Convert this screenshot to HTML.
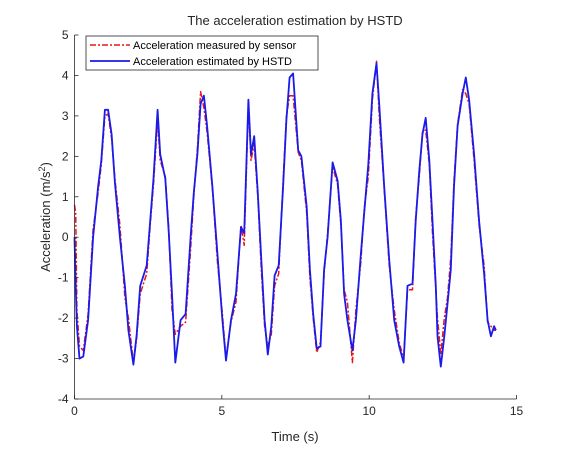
<!DOCTYPE html>
<html><head><meta charset="utf-8"><style>
body{margin:0;background:#fff;}
svg text{font-family:"Liberation Sans",Arial,sans-serif;fill:#262626;}
</style></head><body>
<svg width="570" height="450" xmlns="http://www.w3.org/2000/svg">
<rect x="0" y="0" width="570" height="450" fill="#fff"/>
<rect x="74.5" y="35" width="442" height="364" fill="#fff"/>
<g id="marks"></g>
<g id="axes"></g>
<text x="295" y="25" text-anchor="middle" font-size="13">The acceleration estimation by HSTD</text>
<text x="295" y="441" text-anchor="middle" font-size="13">Time (s)</text>
<text transform="translate(50,217) rotate(-90)" text-anchor="middle" font-size="13">Acceleration (m/s<tspan dy="-5" font-size="9">2</tspan><tspan dy="5">)</tspan></text>
<g>
<rect x="86" y="36" width="232" height="34" fill="#fff" stroke="#262626" stroke-width="0.8"/>
<line x1="90" y1="45" x2="130" y2="45" stroke="#e8161b" stroke-width="1.5" stroke-dasharray="6,2,2,2"/>
<text x="133" y="49" font-size="11" style="fill:#000">Acceleration measured by sensor</text>
<line x1="90" y1="61" x2="130" y2="61" stroke="#1a1aeb" stroke-width="1.8"/>
<text x="133" y="65" font-size="11" style="fill:#000">Acceleration estimated by HSTD</text>
</g>
</svg>
<script>
const times=[0,0.04,0.08,0.17,0.3,0.46,0.63,0.8,0.91,1.03,1.14,1.26,1.37,1.54,1.71,1.83,2.0,2.11,2.23,2.45,2.57,2.68,2.82,2.91,3.08,3.2,3.31,3.42,3.6,3.77,3.94,4.05,4.17,4.28,4.39,4.5,4.68,4.85,5.02,5.14,5.31,5.48,5.65,5.76,5.9,5.99,6.1,6.22,6.34,6.45,6.56,6.68,6.79,6.93,7.08,7.19,7.3,7.42,7.59,7.7,7.88,7.99,8.1,8.22,8.35,8.47,8.59,8.76,8.93,9.04,9.15,9.26,9.43,9.55,9.72,9.83,9.97,10.11,10.25,10.34,10.51,10.68,10.85,11.02,11.17,11.3,11.47,11.58,11.7,11.81,11.92,12.04,12.15,12.26,12.32,12.43,12.55,12.66,12.77,12.88,13.0,13.17,13.28,13.39,13.56,13.73,13.9,14.02,14.13,14.24,14.3];
const hstdValues=[0,-1.2,-2.2,-3.0,-2.95,-2.05,0,1.25,1.9,3.15,3.15,2.55,1.35,0,-1.2,-2.3,-3.15,-2.4,-1.2,-0.7,0.4,1.45,3.15,2.05,1.45,0.1,-1.4,-3.1,-2.05,-1.9,0,1.1,2.05,3.3,3.5,2.75,1.25,-0.4,-2.05,-3.05,-2.05,-1.4,0.25,0.1,3.4,2.05,2.5,1.1,-0.55,-2.05,-2.9,-2.2,-0.95,-0.7,1.25,2.9,3.95,4.05,2.15,2.0,0.75,-0.8,-1.9,-2.75,-2.7,-0.8,0,1.85,1.4,0.4,-1.4,-2.05,-2.8,-2.05,-0.4,0.6,1.8,3.55,4.3,3.3,1.25,-0.55,-2.05,-2.7,-3.1,-1.2,-1.15,0.4,1.65,2.55,2.95,1.9,0.4,-1.2,-2.45,-3.2,-2.45,-1.65,-0.8,1.25,2.75,3.55,3.95,3.4,2.05,0.4,-0.9,-2.05,-2.45,-2.2,-2.3];
const sensorValues=[0.8,0.6,-1.8,-2.7,-2.8,-1.9,0.2,1.1,1.8,3.0,3.05,2.45,1.45,0.3,-1.5,-2.0,-3.1,-2.5,-1.4,-0.9,0.3,1.3,2.9,1.9,1.5,0.2,-1.8,-2.4,-2.2,-2.1,-0.3,1.0,2.2,3.6,3.2,2.6,1.2,-0.6,-1.9,-3.0,-2.1,-1.6,0.3,-0.2,3.3,1.9,2.3,1.0,-0.8,-2.2,-2.7,-2.4,-1.2,-0.9,1.4,3.0,3.5,3.5,2.1,1.9,0.6,-1.0,-2.0,-2.85,-2.6,-0.9,0.1,1.75,1.3,0.3,-1.3,-1.6,-3.1,-1.8,-0.6,0.7,1.5,3.4,4.35,3.0,1.2,-0.7,-1.8,-2.6,-3.0,-1.3,-1.3,0.5,1.5,2.6,2.65,1.8,0.1,-1.3,-2.0,-2.9,-2.0,-1.5,-0.5,1.4,2.8,3.65,3.55,3.3,1.9,0.3,-0.7,-2.1,-2.2,-2.3,-2.3];
const xTicks=[0,5,10,15];
const yTicks=[-4,-3,-2,-1,0,1,2,3,4,5];
const X0=74.5,X1=516.5,Y0=399,Y1=35;
function xs(t){return X0+(t-0)/(15-0)*(X1-X0);}
function ys(v){return Y0-(v-(-4))/(5-(-4))*(Y0-Y1);}
const NS="http://www.w3.org/2000/svg";
const marks=document.getElementById('marks');
function series(vals,color,w,dash,name){
  const p=document.createElementNS(NS,'polyline');
  p.setAttribute('points',times.map((t,i)=>xs(t).toFixed(1)+','+ys(vals[i]).toFixed(1)).join(' '));
  p.setAttribute('fill','none');p.setAttribute('stroke',color);p.setAttribute('stroke-width',w);
  p.setAttribute('stroke-linejoin','round');
  if(dash)p.setAttribute('stroke-dasharray',dash);
  
  
  marks.appendChild(p);
}
series(sensorValues,'#e8161b',1.5,'6,2,2,2','sensor-line');
series(hstdValues,'#1a1aeb',1.8,null,'hstd-line');
const ax=document.getElementById('axes');
function ln(x1,y1,x2,y2,n){const l=document.createElementNS(NS,'line');l.setAttribute('x1',x1);l.setAttribute('y1',y1);l.setAttribute('x2',x2);l.setAttribute('y2',y2);l.setAttribute('stroke','#262626');l.setAttribute('stroke-width','0.8');


ax.appendChild(l);}
ln(X0,Y0,X1,Y0,'x-axis');ln(X0,Y0,X0,Y1,'y-axis');
xTicks.forEach(t=>{ln(xs(t),Y0,xs(t),Y0-4,'x-tick');
 const tx=document.createElementNS(NS,'text');tx.setAttribute('x',xs(t));tx.setAttribute('y',Y0+16);tx.setAttribute('text-anchor','middle');tx.setAttribute('font-size','12');tx.textContent=t;
 
 
 ax.appendChild(tx);});
yTicks.forEach(v=>{ln(X0,ys(v),X0+4,ys(v),'y-tick');
 const tx=document.createElementNS(NS,'text');tx.setAttribute('x',X0-6);tx.setAttribute('y',ys(v)+4);tx.setAttribute('text-anchor','end');tx.setAttribute('font-size','12');tx.textContent=v;
 
 
 ax.appendChild(tx);});
</script>
</body></html>
